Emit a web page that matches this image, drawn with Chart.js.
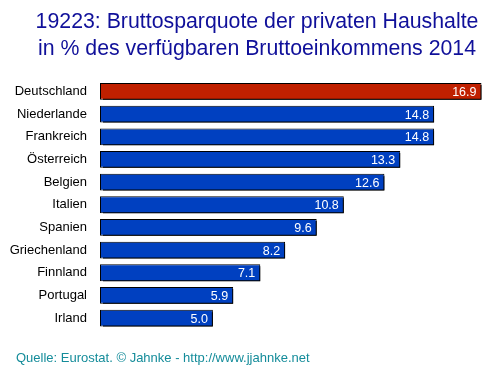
<!DOCTYPE html>
<html><head><meta charset="utf-8">
<script src="https://cdn.jsdelivr.net/npm/chart.js@4.4.1/dist/chart.umd.min.js"></script>
<style>html,body{margin:0;padding:0;background:#fff}#wrap{width:500px;height:368px}</style>
</head><body><div id="wrap"><canvas id="c" width="500" height="368"></canvas></div>
<script>
const countries = ["Deutschland","Niederlande","Frankreich","Österreich","Belgien","Italien","Spanien","Griechenland","Finnland","Portugal","Irland"];
const values = [16.9,14.8,14.8,13.3,12.6,10.8,9.6,8.2,7.1,5.9,5.0];
const highlight = "Deutschland";
const titleLines = ["19223: Bruttosparquote der privaten Haushalte","in % des verfügbaren Bruttoeinkommens 2014"];
const sourceText = "Quelle: Eurostat. © Jahnke - http://www.jjahnke.net";
const FONT = '"Liberation Sans", Arial, sans-serif';

const shadowPlugin = {
  id:'shadow',
  beforeDatasetDraw(chart){ const ctx=chart.ctx; ctx.save(); ctx.shadowColor='#000'; ctx.shadowOffsetX=3; ctx.shadowOffsetY=2; ctx.shadowBlur=0; },
  afterDatasetDraw(chart){ chart.ctx.restore(); }
};
const valuePlugin = {
  id:'vals',
  afterDatasetsDraw(chart){
    const ctx=chart.ctx; const meta=chart.getDatasetMeta(0);
    ctx.save(); ctx.fillStyle='#fff'; ctx.font='12.5px '+FONT;
    ctx.textAlign='right'; ctx.textBaseline='middle';
    meta.data.forEach((b,i)=>{ ctx.fillText(values[i].toFixed(1), b.x-5, b.y+1); });
    ctx.restore();
  }
};
const footerPlugin = {
  id:'footer',
  afterDraw(chart){
    const ctx=chart.ctx; ctx.save(); ctx.fillStyle='#148C9A'; ctx.font='13px '+FONT;
    ctx.textAlign='left'; ctx.textBaseline='middle';
    ctx.fillText(sourceText, 16, 358);
    ctx.restore();
  }
};
new Chart(document.getElementById('c'),{
  type:'bar',
  data:{labels:countries,datasets:[{data:values,
    backgroundColor:countries.map(c=>c===highlight?'#C02000':'#0040C0'),
    borderColor:'#000',borderWidth:1,borderSkipped:false,
    categoryPercentage:1,barPercentage:0.74}]},
  options:{
    indexAxis:'y',responsive:false,animation:false,
    layout:{padding:{left:10,right:-4,top:0,bottom:38.6}},
    plugins:{
      legend:{display:false},tooltip:{enabled:false},
      title:{display:true,text:titleLines,color:'#10109A',font:{family:FONT,size:21.3,weight:'normal',lineHeight:1.27},padding:{top:9,bottom:17}}
    },
    scales:{
      x:{display:false,min:0,max:17.72},
      y:{grid:{display:false,drawTicks:false},border:{display:false},
         ticks:{color:'#000',padding:13,font:{family:FONT,size:13}},
         afterFit(s){s.width=90;}}
    }
  },
  plugins:[shadowPlugin,valuePlugin,footerPlugin]
});
</script></body></html>
